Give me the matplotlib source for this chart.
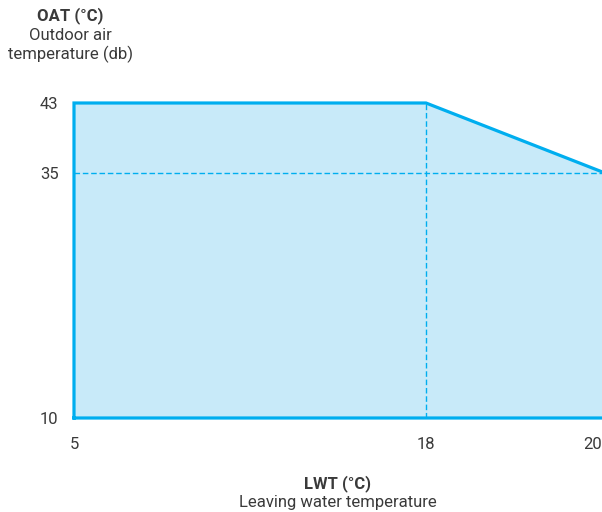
import numpy as np
import matplotlib.pyplot as plt
import matplotlib.transforms as mtransforms
from matplotlib.scale import FuncScale

# Operating envelope (LWT vs OAT)
lwt = [5, 5, 18, 20, 20]
oat = [10, 43, 43, 35, 10]

x_ticks = [5, 18, 20]
y_ticks = [10, 35, 43]

# axes are not linear in the source chart -> piecewise mapping
x_pos = [0, 352, 531]
y_pos = [0, 245, 315]

line_col = "#00aeef"
fill_col = "#c8eaf9"
text_col = "#3a3a3a"

plt.rcParams['font.family'] = ['Roboto', 'DejaVu Sans']

fig = plt.figure(figsize=(6.02, 5.12), dpi=100)
ax = fig.add_axes([74 / 602, (512 - 418) / 512, 531 / 602, 315 / 512])

ax.set_xscale(FuncScale(ax.xaxis, (lambda v: np.interp(v, x_ticks, x_pos),
                                   lambda p: np.interp(p, x_pos, x_ticks))))
ax.set_yscale(FuncScale(ax.yaxis, (lambda v: np.interp(v, y_ticks, y_pos),
                                   lambda p: np.interp(p, y_pos, y_ticks))))

ax.fill(lwt, oat, color=fill_col, zorder=1)
ax.plot(lwt + [lwt[0]], oat + [oat[0]], color=line_col, lw=2.3, zorder=3,
        solid_joinstyle='miter', clip_on=False)
ax.plot([5, 20], [35, 35], color=line_col, lw=1.0, ls=(0, (4, 2)), zorder=2,
        snap=True)
ax.plot([18, 18], [10, 43], color=line_col, lw=1.0, ls=(0, (4, 2)), zorder=2,
        snap=True)

ax.set_xlim(5, 20)
ax.set_ylim(10, 43)
for s in ax.spines.values():
    s.set_visible(False)

ax.set_xticks(x_ticks)
ax.set_xticklabels([str(v) for v in x_ticks])
ax.set_yticks(y_ticks)
ax.set_yticklabels([str(v) for v in y_ticks])
ax.tick_params(length=0, labelsize=12, labelcolor=text_col)
ax.tick_params(axis='x', pad=14)
ax.tick_params(axis='y', pad=11)
last = ax.get_xticklabels()[-1]
last.set_horizontalalignment('right')
last.set_transform(last.get_transform() +
                   mtransforms.ScaledTranslation(-3 / 100, 0, fig.dpi_scale_trans))

fig.text(70 / 602, 1 - 16 / 512, "OAT (°C)", ha='center', va='center',
         fontsize=12, fontweight='bold', color=text_col)
fig.text(70 / 602, 1 - 36 / 512, "Outdoor air", ha='center', va='center',
         fontsize=12, color=text_col)
fig.text(70 / 602, 1 - 54 / 512, "temperature (db)", ha='center', va='center',
         fontsize=12, color=text_col)

fig.text(338 / 602, 1 - 484 / 512, "LWT (°C)", ha='center', va='center',
         fontsize=12, fontweight='bold', color=text_col)
fig.text(338 / 602, 1 - 502 / 512, "Leaving water temperature", ha='center',
         va='center', fontsize=12, color=text_col)

fig.savefig("out.png", dpi=100)
